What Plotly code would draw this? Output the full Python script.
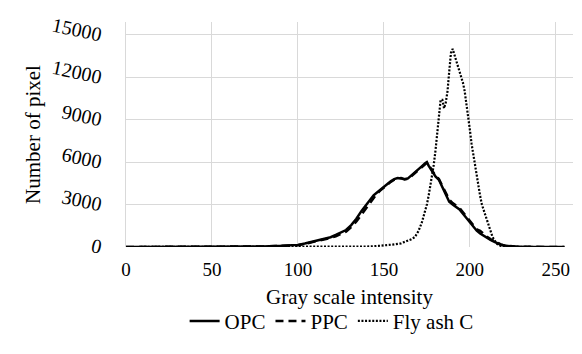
import plotly.graph_objects as go

# ---- data ----
opc_x = [0, 30, 60, 70, 80, 90, 100, 104, 108, 112, 116, 119, 122, 125, 128, 131, 134, 137, 140, 142,
         144, 146, 148, 150, 152, 154, 156, 158, 160, 162, 164, 166, 168, 170, 172, 174, 175, 176, 178, 180,
         182, 184, 186, 188, 190, 192, 194, 196, 198, 200, 202, 204, 206, 208, 210, 212, 214, 216, 218, 220,
         223, 226, 230, 240, 255]
opc_y = [0, 0, 5, 15, 40, 80, 150, 250, 360, 460, 580, 690, 850, 1000, 1200, 1550, 2000, 2550, 3050, 3400,
         3650, 3850, 4050, 4250, 4500, 4650, 4800, 4870, 4850, 4780, 4850, 5080, 5250, 5500, 5700, 5920, 6000, 5750, 5350, 4980,
         4750, 4250, 3650, 3200, 3000, 2850, 2650, 2350, 2050, 1700, 1400, 1150, 950, 780, 640, 500, 380, 260, 160, 100,
         55, 30, 15, 5, 0]

ppc_x = opc_x
ppc_y = [0, 0, 5, 12, 35, 70, 130, 220, 320, 420, 520, 640, 760, 900, 1080, 1400, 1800, 2300, 2800, 3200,
         3500, 3780, 4000, 4200, 4450, 4600, 4750, 4850, 4870, 4800, 4800, 5000, 5200, 5450, 5650, 5850, 5950, 5800, 5450, 5050,
         4800, 4350, 3800, 3350, 3100, 2900, 2750, 2450, 2150, 1800, 1500, 1250, 1150, 900, 720, 560, 420, 290, 180, 110,
         60, 30, 15, 5, 0]

fly_x = [0, 50, 100, 120, 130, 140, 145, 150, 155, 160, 163, 166, 168, 170, 172, 174, 175, 176, 177, 178,
         179, 180, 181, 182, 183, 184, 185, 186, 187, 188, 189, 190, 191, 192, 193, 194, 195, 196, 197, 198,
         199, 200, 201, 202, 203, 204, 205, 206, 207, 208, 209, 210, 211, 212, 213, 214, 215, 216, 217, 218,
         220, 225, 230, 240, 255]
fly_y = [0, 0, 0, 5, 10, 30, 60, 100, 170, 260, 380, 550, 700, 1100, 1700, 2500, 3000, 3600, 4300, 5000,
         5800, 6800, 8000, 9600, 10400, 10400, 9800, 10200, 11000, 12400, 13700, 14000, 13600, 13100, 12700, 12400, 12000, 11600, 11000, 10200,
         9200, 8300, 7300, 6500, 5700, 4900, 4200, 3600, 3000, 2600, 2200, 1800, 1400, 1050, 780, 520, 330, 200, 130, 80,
         40, 10, 5, 0, 0]

x_ticks = [0, 50, 100, 150, 200, 250]
y_ticks = [0, 3000, 6000, 9000, 12000, 15000]
y_tick_labels = ["0", "3000", "6000", "9000", "12000", "15000"]

FONT = "Liberation Serif, Times New Roman, serif"

fig = go.Figure()
fig.add_trace(go.Scatter(x=opc_x, y=opc_y, mode="lines", name="OPC",
                         line=dict(color="black", width=2.5, dash="solid")))
fig.add_trace(go.Scatter(x=ppc_x, y=ppc_y, mode="lines", name="PPC",
                         line=dict(color="black", width=2.5, dash="8px,5px")))
fig.add_trace(go.Scatter(x=fly_x, y=fly_y, mode="lines", name="Fly ash C",
                         line=dict(color="black", width=2.2, dash="2px,1.6px")))

fig.update_layout(
    width=574, height=346,
    margin=dict(l=118, r=9, t=14, b=107, autoexpand=False),
    paper_bgcolor="white", plot_bgcolor="white",
    font=dict(family=FONT, color="black", size=19),
    showlegend=True,
    legend=dict(orientation="h", x=0.46, xanchor="center", y=-0.33, yanchor="middle",
                font=dict(size=21, family=FONT, color="black"), itemwidth=30, tracegroupgap=0,
                bgcolor="rgba(0,0,0,0)"),
    xaxis=dict(range=[0, 260], tickvals=x_ticks, showgrid=True, gridcolor="#d9d9d9", gridwidth=1,
               zeroline=False, showline=False, ticks="", automargin=False,
               tickfont=dict(size=19, family=FONT, color="black"), ticklabelstandoff=9,
               title=dict(text="Gray scale intensity", font=dict(size=21, family=FONT, color="black"), standoff=10)),
    yaxis=dict(range=[0, 15900], tickvals=y_ticks, ticktext=y_tick_labels, showgrid=True,
               gridcolor="#d9d9d9", gridwidth=1, automargin=False,
               zeroline=False, showline=True, linecolor="#d9d9d9", ticks="", tickangle=12,
               tickfont=dict(size=20, family=FONT, color="black"), ticklabelstandoff=19,
               title=dict(text="Number of pixel", font=dict(size=21, family=FONT, color="black"), standoff=3)),
)

fig.write_html("out.html")
